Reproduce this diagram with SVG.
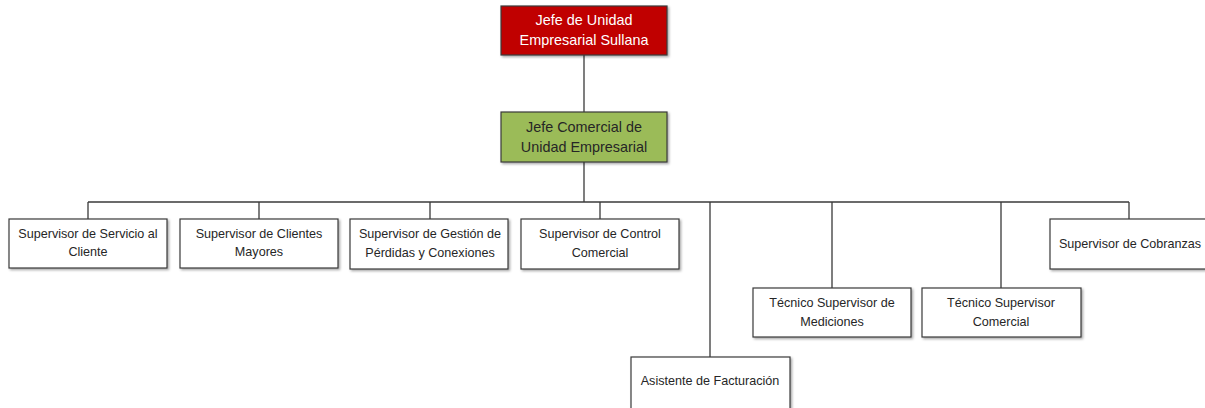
<svg xmlns="http://www.w3.org/2000/svg" width="1205" height="408" viewBox="0 0 1205 408">
<defs>
<filter id="sh" x="-5%" y="-10%" width="115%" height="130%">
<feDropShadow dx="1.5" dy="1.5" stdDeviation="0.8" flood-color="#000" flood-opacity="0.35"/>
</filter>
</defs>
<style>
.box{fill:#fff;stroke:#3a3a3a;stroke-width:1.2;filter:url(#sh)}
.red{fill:#C00000}
.green{fill:#9BBB59}
.t{font-family:"Liberation Sans",Arial,sans-serif;font-size:12.6px;fill:#262626;text-anchor:middle}
.tw{fill:#fff;font-size:14.4px}
.tg{font-size:14.4px;fill:#262626}
.c{stroke:#3a3a3a;stroke-width:1.3;fill:none}
</style>
<rect width="1205" height="408" fill="#fff"/>
<g id="connectors">
<path class="c" d="M584 55V112"/>
<path class="c" d="M584 162V202" stroke-width="2"/>
<path class="c" d="M88 202H1129"/>
<path class="c" d="M88 202V219M259 202V219M430 202V219M600 202V219M710 202V357M832 202V288M1001 202V288M1129 202V219"/>
</g>
<g id="n0"><rect class="box red" x="501" y="6" width="166" height="49"/><text class="t tw" x="584" y="25">Jefe de Unidad</text><text class="t tw" x="584" y="45">Empresarial Sullana</text></g>
<g id="n1"><rect class="box green" x="501" y="112" width="166" height="50"/><text class="t tg" x="584" y="132">Jefe Comercial de</text><text class="t tg" x="584" y="152">Unidad Empresarial</text></g>
<g id="n2"><rect class="box" x="9" y="219" width="158" height="49"/><text class="t" x="88" y="238">Supervisor de Servicio al</text><text class="t" x="88" y="256">Cliente</text></g>
<g id="n3"><rect class="box" x="180" y="219" width="158" height="49"/><text class="t" x="259" y="238">Supervisor de Clientes</text><text class="t" x="259" y="256">Mayores</text></g>
<g id="n4"><rect class="box" x="350" y="219" width="158" height="50"/><text class="t" x="430" y="238">Supervisor de Gestión de</text><text class="t" x="430" y="257">Pérdidas y Conexiones</text></g>
<g id="n5"><rect class="box" x="521" y="219" width="158" height="50"/><text class="t" x="600" y="238">Supervisor de Control</text><text class="t" x="600" y="257">Comercial</text></g>
<g id="n6"><rect class="box" x="631" y="357" width="159" height="60"/><text class="t" x="710" y="385">Asistente de Facturación</text></g>
<g id="n7"><rect class="box" x="753" y="288" width="158" height="49"/><text class="t" x="832" y="307">Técnico Supervisor de</text><text class="t" x="832" y="326">Mediciones</text></g>
<g id="n8"><rect class="box" x="922" y="288" width="159" height="49"/><text class="t" x="1001" y="307">Técnico Supervisor</text><text class="t" x="1001" y="326">Comercial</text></g>
<g id="n9"><rect class="box" x="1050" y="219" width="170" height="50"/><text class="t" x="1130" y="248">Supervisor de Cobranzas</text></g>
</svg>
